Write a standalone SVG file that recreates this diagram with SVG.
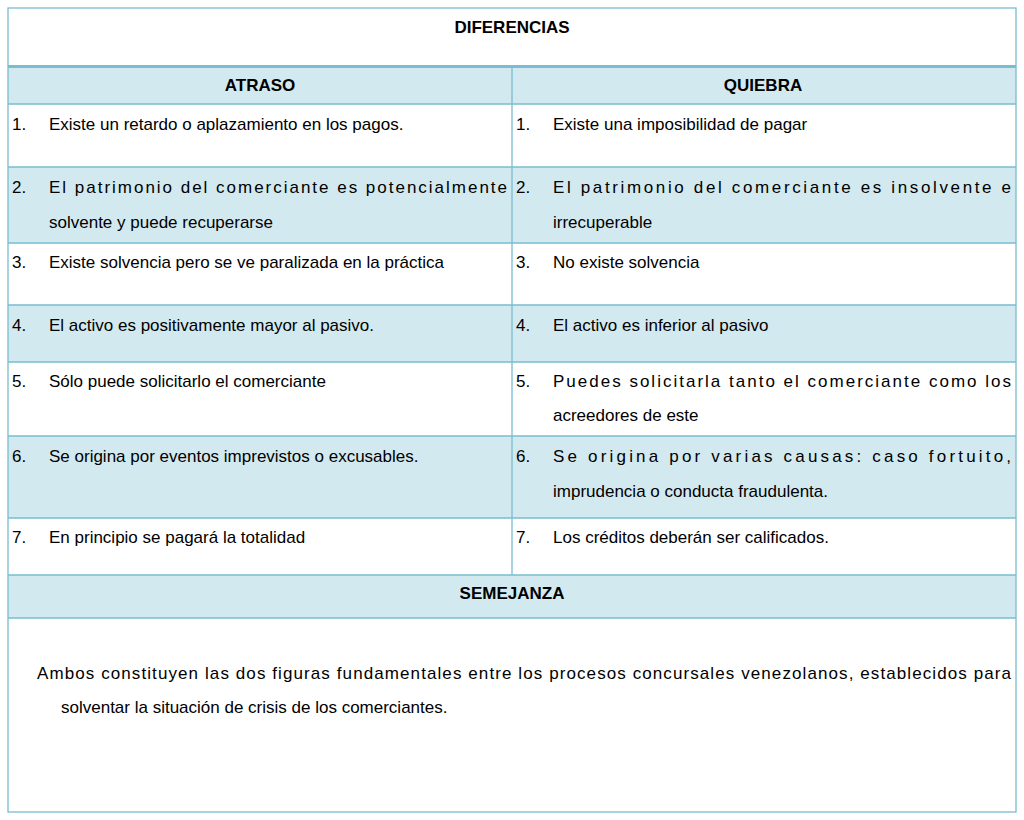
<svg xmlns="http://www.w3.org/2000/svg" width="1024" height="820" viewBox="0 0 1024 820">
<style>
.b{fill:#d3e9f0}
.w{fill:#fff}
.l{stroke:#78bdd0;stroke-width:1.3;fill:none}
text{font-family:"Liberation Sans",Arial,sans-serif;font-size:17px;fill:#000}
.h{font-weight:bold;text-anchor:middle}
</style>
<rect width="1024" height="820" fill="#fff"/>
<g id="fills">
<rect class="b" x="8" y="67" width="1008" height="37"/>
<rect class="b" x="8" y="167" width="1008" height="76"/>
<rect class="b" x="8" y="305" width="1008" height="57"/>
<rect class="b" x="8" y="436" width="1008" height="82"/>
<rect class="b" x="8" y="575" width="1008" height="43"/>
</g>
<g id="grid">
<rect class="l" x="8" y="8" width="1008" height="804"/>
<line class="l" x1="8" y1="66.5" x2="1016" y2="66.5" style="stroke-width:3"/>
<line class="l" x1="512" y1="68" x2="512" y2="575"/>
<line class="l" x1="8" y1="104" x2="1016" y2="104"/>
<line class="l" x1="8" y1="167" x2="1016" y2="167"/>
<line class="l" x1="8" y1="243" x2="1016" y2="243"/>
<line class="l" x1="8" y1="305" x2="1016" y2="305"/>
<line class="l" x1="8" y1="362" x2="1016" y2="362"/>
<line class="l" x1="8" y1="436" x2="1016" y2="436"/>
<line class="l" x1="8" y1="518" x2="1016" y2="518"/>
<line class="l" x1="8" y1="575" x2="1016" y2="575"/>
<line class="l" x1="8" y1="618" x2="1016" y2="618"/>
</g>
<g id="headers">
<text class="h" x="512" y="33">DIFERENCIAS</text>
<text class="h" x="260" y="91">ATRASO</text>
<text class="h" x="763" y="91">QUIEBRA</text>
<text class="h" x="512" y="599">SEMEJANZA</text>
</g>
<g id="left">
<text x="12" y="130">1.</text><text x="49" y="130">Existe un retardo o aplazamiento en los pagos.</text>
<text x="12" y="193">2.</text><text x="49" y="193" textLength="458" lengthAdjust="spacing">El patrimonio del comerciante es potencialmente</text>
<text x="49" y="228">solvente y puede recuperarse</text>
<text x="12" y="268">3.</text><text x="49" y="268">Existe solvencia pero se ve paralizada en la práctica</text>
<text x="12" y="331">4.</text><text x="49" y="331">El activo es positivamente mayor al pasivo.</text>
<text x="12" y="387">5.</text><text x="49" y="387">Sólo puede solicitarlo el comerciante</text>
<text x="12" y="462">6.</text><text x="49" y="462">Se origina por eventos imprevistos o excusables.</text>
<text x="12" y="543">7.</text><text x="49" y="543">En principio se pagará la totalidad</text>
</g>
<g id="right">
<text x="516" y="130">1.</text><text x="553" y="130">Existe una imposibilidad de pagar</text>
<text x="516" y="193">2.</text><text x="553" y="193" textLength="458" lengthAdjust="spacing">El patrimonio del comerciante es insolvente e</text>
<text x="553" y="228">irrecuperable</text>
<text x="516" y="268">3.</text><text x="553" y="268">No existe solvencia</text>
<text x="516" y="331">4.</text><text x="553" y="331">El activo es inferior al pasivo</text>
<text x="516" y="387">5.</text><text x="553" y="387" textLength="458" lengthAdjust="spacing">Puedes solicitarla tanto el comerciante como los</text>
<text x="553" y="421">acreedores de este</text>
<text x="516" y="462">6.</text><text x="553" y="462" textLength="458" lengthAdjust="spacing">Se origina por varias causas: caso fortuito,</text>
<text x="553" y="497">imprudencia o conducta fraudulenta.</text>
<text x="516" y="543">7.</text><text x="553" y="543">Los créditos deberán ser calificados.</text>
</g>
<g id="semejanza">
<text x="37" y="679" textLength="974" lengthAdjust="spacing">Ambos constituyen las dos figuras fundamentales entre los procesos concursales venezolanos, establecidos para</text>
<text x="61" y="713">solventar la situación de crisis de los comerciantes.</text>
</g>
</svg>
